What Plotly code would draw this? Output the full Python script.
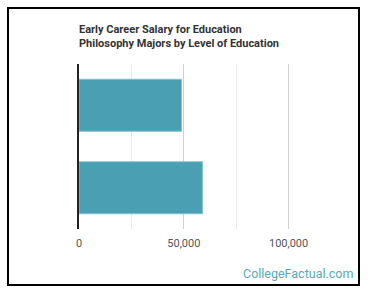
import plotly.graph_objects as go

categories = ["Bachelor's Degree", "Master's Degree"]
salaries = [48900, 59000]
tick_values = [0, 50000, 100000]
tick_labels = ["0", "50,000", "100,000"]

W, H = 370, 296
ml, mr, mt, mb = 79, 29, 64, 67
pw, ph = W - ml - mr, H - mt - mb

def px(x):
    return (x - ml) / pw

def py(y):
    return 1 - (y - mt) / ph

fig = go.Figure(go.Bar(
    y=categories, x=salaries, orientation="h",
    marker=dict(color="#4aa0b2", line=dict(color="#7cc3cf", width=1)),
    hoverinfo="x",
))

fig.update_layout(
    width=W, height=H,
    margin=dict(l=ml, r=mr, t=mt, b=mb),
    paper_bgcolor="white", plot_bgcolor="white",
    bargap=0.37,
    showlegend=False,
    font=dict(family="Roboto", color="#555"),
    title=dict(
        text="<b>Early Career Salary for Education<br>Philosophy Majors by Level of Education</b>",
        x=px(79), xanchor="left", xref="paper",
        y=1 - 33 / H, yanchor="top",
        font=dict(family="Roboto", size=11, color="#333"),
    ),
    xaxis=dict(
        range=[0, 125000],
        tickvals=tick_values, ticktext=tick_labels,
        showgrid=True, gridcolor="#d0d0d0", gridwidth=1,
        minor=dict(dtick=25000, tick0=0, showgrid=True, gridcolor="#e8e8e8", gridwidth=1),
        zeroline=False, showline=False, ticks="",
        ticklabelstandoff=6,
        tickfont=dict(family="Roboto", size=11, color="#555"),
        fixedrange=True,
    ),
    yaxis=dict(
        autorange="reversed",
        showticklabels=False, showgrid=False, zeroline=False,
        showline=True, linecolor="#222", linewidth=1.5, ticks="",
        fixedrange=True,
    ),
    shapes=[dict(
        type="rect", xref="paper", yref="paper",
        x0=px(8), x1=px(359), y0=py(285), y1=py(8),
        line=dict(color="black", width=2), fillcolor="rgba(0,0,0,0)",
        layer="above",
    )],
    annotations=[dict(
        text="CollegeFactual.com", xref="paper", yref="paper",
        x=px(355), y=py(273), xanchor="right", yanchor="middle",
        showarrow=False,
        font=dict(family="Roboto", size=12.5, color="#5aa8b8"),
    )],
)

fig.write_html("out.html", config={"displayModeBar": False})
